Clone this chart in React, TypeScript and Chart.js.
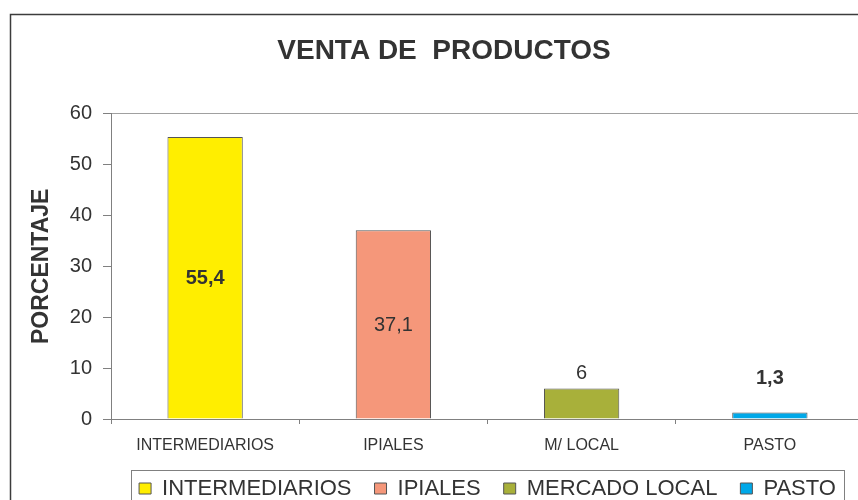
import React, { useEffect, useRef } from 'react';
import { Chart, registerables } from 'chart.js';

Chart.register(...registerables);

// ---- data ----
const chartTitle = 'VENTA DE  PRODUCTOS';
const yAxisTitle = 'PORCENTAJE';
const categories = ['INTERMEDIARIOS', 'IPIALES', 'M/ LOCAL', 'PASTO'];
const legendNames = ['INTERMEDIARIOS', 'IPIALES', 'MERCADO LOCAL', 'PASTO'];
const values = [55.4, 37.1, 6, 1.3];
const yTicks = [0, 10, 20, 30, 40, 50, 60];

// ---- styles ----
const barColors = ['#FFEE00', '#F5977A', '#A8B03A', '#00A8E8'];
const labelStyles = [
  { bold: true, pos: 'center', gap: 0 },
  { bold: false, pos: 'center', gap: 0 },
  { bold: false, pos: 'above', gap: 9 },
  { bold: true, pos: 'above', gap: 28 },
];
const W = 900;
const H = 530;
const FONT = '"Liberation Sans", Arial, Helvetica, sans-serif';
const TEXT = '#333333';
const AXIS = '#808080';

const decorPlugin = {
  id: 'decor',
  beforeDraw(chart: any) {
    const ctx = chart.ctx;
    ctx.save();
    ctx.fillStyle = '#ffffff';
    ctx.fillRect(0, 0, chart.width, chart.height);
    ctx.strokeStyle = '#3c3c3c';
    ctx.lineWidth = 1.5;
    ctx.strokeRect(10.5, 14.5, chart.width - 21, chart.height - 29);
    ctx.restore();
  },
  afterDatasetsDraw(chart: any) {
    const ctx = chart.ctx;
    ctx.save();
    values.forEach((v, i) => {
      const el = chart.getDatasetMeta(i).data[i];
      if (!el) return;
      const st = labelStyles[i];
      ctx.font = `${st.bold ? 'bold ' : ''}20px ${FONT}`;
      ctx.fillStyle = TEXT;
      ctx.textAlign = 'center';
      const txt = String(v).replace('.', ',');
      if (st.pos === 'center') {
        ctx.textBaseline = 'middle';
        ctx.fillText(txt, el.x, (el.y + el.base) / 2 + 1);
      } else {
        ctx.textBaseline = 'alphabetic';
        ctx.fillText(txt, el.x, el.y - st.gap);
      }
    });
    ctx.restore();
  },
  afterDraw(chart: any) {
    const lg = chart.legend;
    const hb = lg && lg.legendHitBoxes;
    if (!hb || !hb.length) return;
    const ctx = chart.ctx;
    const first = hb[0];
    const last = hb[hb.length - 1];
    const left = Math.round(first.left - 8) + 0.5;
    const right = Math.round(last.left + last.width + 8) + 0.5;
    const top = Math.round(first.top - 7.5) + 0.5;
    const bottom = Math.round(first.top + first.height + 12) + 0.5;
    ctx.save();
    ctx.strokeStyle = AXIS;
    ctx.lineWidth = 1;
    ctx.strokeRect(left, top, right - left, bottom - top);
    ctx.restore();
  },
};

export default function App() {
  const ref = useRef<HTMLCanvasElement>(null);

  useEffect(() => {
    if (!ref.current) return;
    const datasets = values.map((v, i) => ({
      label: legendNames[i],
      data: categories.map((_, j) => (j === i ? v : null)),
      backgroundColor: barColors[i],
      borderColor: '#555555',
      borderWidth: 1,
      grouped: false,
      barPercentage: 0.4,
      categoryPercentage: 1,
    }));
    const chart = new Chart(ref.current, {
      type: 'bar',
      data: { labels: categories, datasets },
      plugins: [decorPlugin],
      options: {
        responsive: false,
        animation: false,
        devicePixelRatio: 1,
        events: [],
        layout: { padding: { left: 24, right: 36, top: 14, bottom: 20.5 } },
        plugins: {
          tooltip: { enabled: false },
          title: {
            display: true,
            text: chartTitle,
            color: TEXT,
            font: { family: FONT, size: 28, weight: 'bold' },
            padding: { top: 20, bottom: 46 },
          },
          legend: {
            display: true,
            position: 'bottom',
            fullSize: false,
            align: 'center',
            labels: {
              boxWidth: 12,
              boxHeight: 11,
              padding: 23,
              color: TEXT,
              font: { family: FONT, size: 22 },
            },
          },
        },
        scales: {
          x: {
            grid: {
              display: true,
              drawOnChartArea: false,
              tickLength: 5,
              tickColor: AXIS,
              offset: true,
            },
            border: { display: true, color: AXIS, width: 1 },
            ticks: {
              color: TEXT,
              font: { family: FONT, size: 16 },
              padding: 12,
              maxRotation: 0,
              autoSkip: false,
            },
            afterFit: (s: any) => {
              s.height = 35.5;
            },
          },
          y: {
            min: yTicks[0],
            max: yTicks[yTicks.length - 1],
            afterBuildTicks: (s: any) => {
              s.ticks = yTicks.map((t) => ({ value: t }));
            },
            ticks: {
              color: TEXT,
              font: { family: FONT, size: 20 },
              padding: 11,
            },
            grid: {
              drawOnChartArea: true,
              color: (c: any) =>
                c.tick && c.tick.value === yTicks[yTicks.length - 1] ? '#A0A0A0' : 'rgba(0,0,0,0)',
              tickLength: 8,
              tickColor: AXIS,
            },
            border: { display: true, color: AXIS, width: 1 },
            title: {
              display: true,
              text: yAxisTitle,
              color: TEXT,
              font: { family: FONT, size: 23, weight: 'bold' },
              padding: { top: 4, bottom: 4 },
            },
            afterFit: (s: any) => {
              s.width = 87;
            },
          },
        },
      } as any,
    });
    return () => chart.destroy();
  }, []);

  return (
    <div
      style={{
        position: 'fixed',
        left: 0,
        top: 0,
        width: 858,
        height: 500,
        overflow: 'hidden',
        background: '#ffffff',
      }}
    >
      <canvas ref={ref} width={W} height={H} style={{ display: 'block', width: W, height: H }} />
    </div>
  );
}
